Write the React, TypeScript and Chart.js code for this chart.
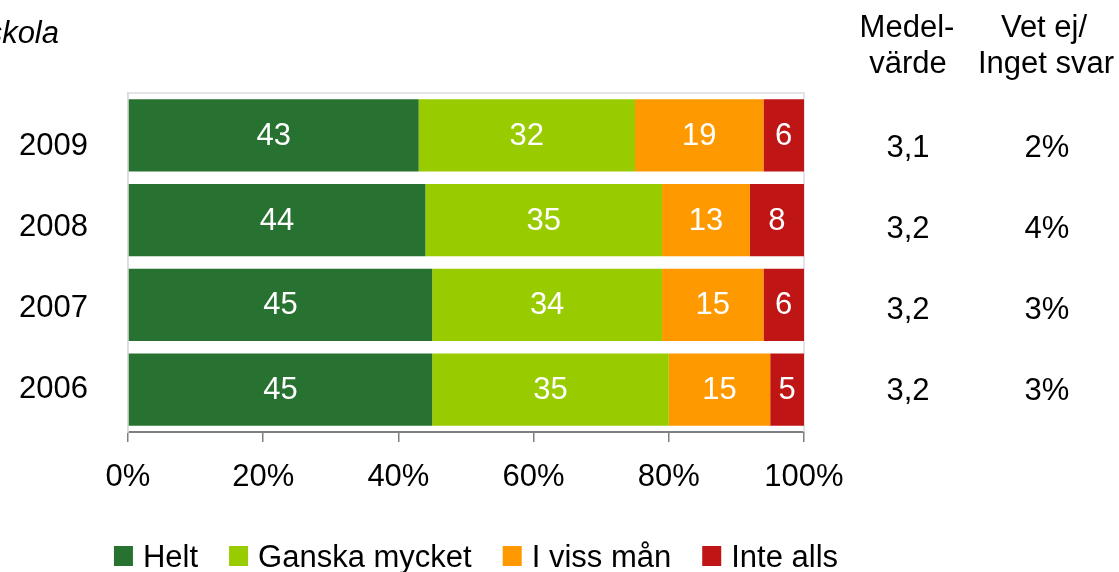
import React, { useEffect, useRef } from "react";
import { Chart, registerables } from "chart.js";

Chart.register(...registerables);

// ---- Data ----
const years = ["2009", "2008", "2007", "2006"];
const seriesNames = ["Helt", "Ganska mycket", "I viss mån", "Inte alls"];
const helt = [43, 44, 45, 45];
const ganskaMycket = [32, 35, 34, 35];
const iVissMan = [19, 13, 15, 15];
const inteAlls = [6, 8, 6, 5];
const medelvarde = [3.1, 3.2, 3.2, 3.2];
const vetEj = [2, 4, 3, 3];
const xTickValues = [0, 20, 40, 60, 80, 100];
const titleText = "Grundskola";
const medelHeader = ["Medel-", "värde"];
const vetEjHeader = ["Vet ej/", "Inget svar"];

// ---- Styles ----
const FONT = "'Liberation Sans', Arial, Helvetica, sans-serif";
const SIZE = 31;
const COLORS = ["#277230", "#99CC00", "#FF9900", "#BF1515"];
const ROW_BASE_LABEL = [155, 236, 317, 398];
const ROW_BASE_COL = [157, 238, 319, 400];

const overlayPlugin = {
  id: "overlay",
  beforeDatasetsDraw(chart: any) {
    const { ctx, chartArea: a } = chart;
    ctx.save();
    ctx.strokeStyle = "#d9dbe2";
    ctx.lineWidth = 1.5;
    ctx.beginPath();
    ctx.moveTo(a.left, a.bottom);
    ctx.lineTo(a.left, a.top);
    ctx.lineTo(a.right, a.top);
    ctx.lineTo(a.right, a.bottom);
    ctx.stroke();
    ctx.restore();
  },
  afterDatasetsDraw(chart: any) {
    const { ctx } = chart;
    ctx.save();
    ctx.fillStyle = "#ffffff";
    ctx.font = `${SIZE}px ${FONT}`;
    ctx.textAlign = "center";
    ctx.textBaseline = "middle";
    chart.data.datasets.forEach((ds: any, di: number) => {
      const meta = chart.getDatasetMeta(di);
      meta.data.forEach((el: any, i: number) => {
        const v = ds.data[i];
        const cx = (el.x + el.base) / 2;
        ctx.fillText(String(v), cx, el.y + 1);
      });
    });
    ctx.restore();
  },
  afterDraw(chart: any) {
    const { ctx } = chart;
    ctx.save();
    ctx.fillStyle = "#000000";
    ctx.textBaseline = "alphabetic";

    // title (cut at left edge)
    ctx.font = `italic ${SIZE}px ${FONT}`;
    ctx.textAlign = "right";
    ctx.fillText(titleText, 59, 43);

    ctx.font = `${SIZE}px ${FONT}`;
    // category labels
    ctx.textAlign = "right";
    years.forEach((y, i) => ctx.fillText(y, 88, ROW_BASE_LABEL[i]));

    // headers
    ctx.textAlign = "center";
    ctx.fillText(medelHeader[0], 907, 37);
    ctx.fillText(medelHeader[1], 908, 73);
    ctx.fillText(vetEjHeader[0], 1044, 37);
    ctx.fillText(vetEjHeader[1], 1046, 73);

    // columns
    medelvarde.forEach((m, i) =>
      ctx.fillText(m.toFixed(1).replace(".", ","), 908, ROW_BASE_COL[i])
    );
    vetEj.forEach((v, i) => ctx.fillText(`${v}%`, 1047, ROW_BASE_COL[i]));

    // legend
    const boxW = 19;
    const gapBT = 10;
    const gapItem = 31;
    const widths = seriesNames.map((n) => ctx.measureText(n).width);
    const total =
      widths.reduce((s, w) => s + w, 0) +
      seriesNames.length * (boxW + gapBT) +
      (seriesNames.length - 1) * gapItem;
    let x = 476 - total / 2;
    const base = 567;
    ctx.textAlign = "left";
    seriesNames.forEach((n, i) => {
      ctx.fillStyle = COLORS[i];
      ctx.fillRect(x, base - 21, boxW, 20);
      x += boxW + gapBT;
      ctx.fillStyle = "#000000";
      ctx.fillText(n, x, base);
      x += widths[i] + gapItem;
    });
    ctx.restore();
  },
};

export default function App() {
  const canvasRef = useRef<HTMLCanvasElement | null>(null);

  useEffect(() => {
    if (!canvasRef.current) return;
    const series = [helt, ganskaMycket, iVissMan, inteAlls];
    const chart = new Chart(canvasRef.current, {
      type: "bar",
      data: {
        labels: years,
        datasets: series.map((d, i) => ({
          label: seriesNames[i],
          data: d,
          backgroundColor: COLORS[i],
          borderWidth: 0,
          barPercentage: 0.85,
          categoryPercentage: 1,
        })),
      },
      options: {
        indexAxis: "y",
        responsive: true,
        maintainAspectRatio: false,
        animation: false,
        layout: { padding: { top: 93, right: 315, left: 0, bottom: 0 } },
        plugins: {
          legend: { display: false },
          tooltip: { enabled: false },
        },
        scales: {
          x: {
            stacked: true,
            min: 0,
            max: 100,
            afterBuildTicks: (scale: any) => {
              scale.ticks = xTickValues.map((v) => ({ value: v }));
            },
            afterFit: (scale: any) => {
              scale.height = 140;
            },
            ticks: {
              callback: (v: any) => `${v}%`,
              color: "#000000",
              font: { family: FONT, size: SIZE },
              padding: 17,
              maxRotation: 0,
              autoSkip: false,
            },
            grid: {
              drawOnChartArea: false,
              drawTicks: true,
              tickLength: 10,
              color: "#7f7f7f",
              lineWidth: 1.5,
            },
            border: { display: true, color: "#7f7f7f", width: 2 },
          },
          y: {
            stacked: true,
            afterFit: (scale: any) => {
              scale.width = 128;
            },
            ticks: { display: false },
            grid: { display: false },
            border: { display: true, color: "#d9dbe2", width: 1.5 },
          },
        },
      },
      plugins: [overlayPlugin],
    });
    return () => chart.destroy();
  }, []);

  return (
    <div
      style={{
        position: "absolute",
        left: 0,
        top: 0,
        width: 1119,
        height: 572,
        background: "#ffffff",
      }}
    >
      <canvas ref={canvasRef} />
    </div>
  );
}
